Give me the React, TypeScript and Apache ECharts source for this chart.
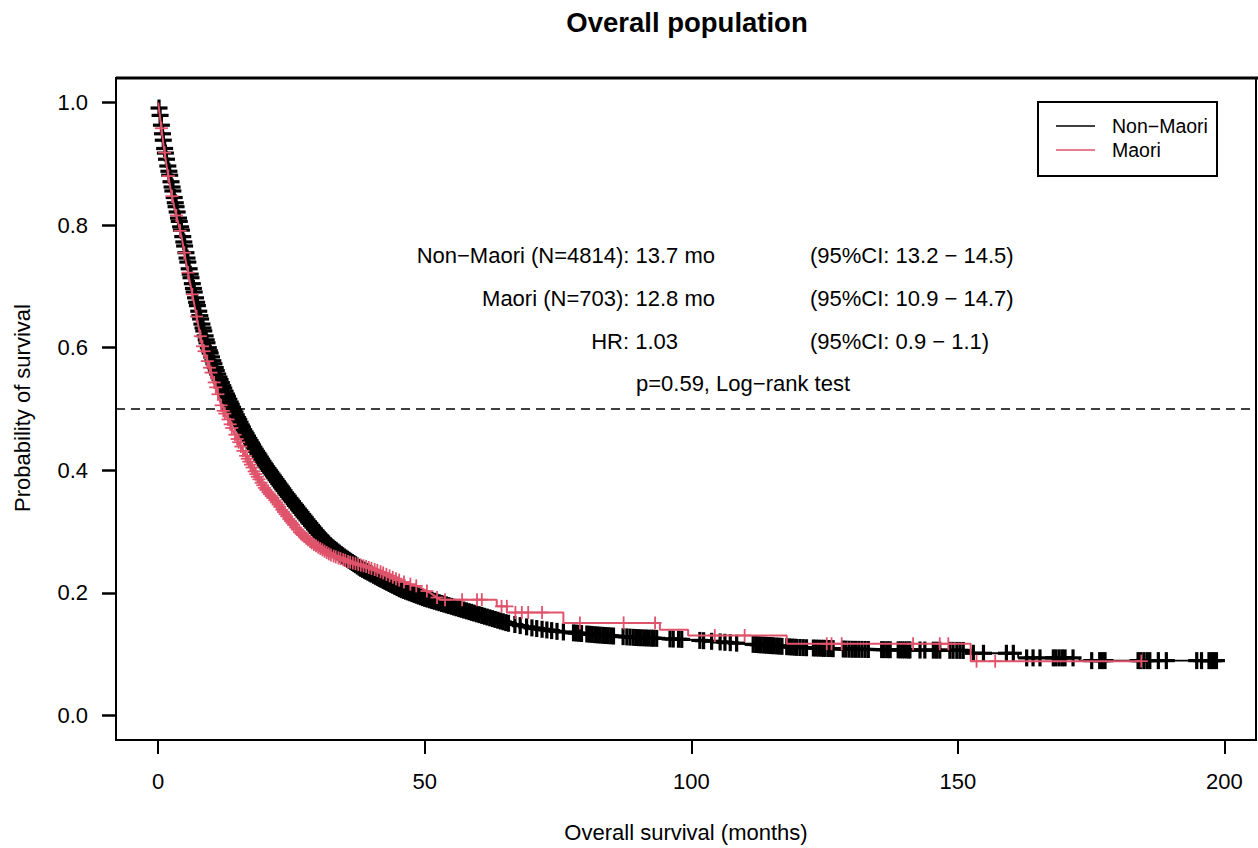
import React, { useEffect, useRef } from "react";
import * as echarts from "echarts";

const FONT = "'Liberation Sans', Arial, Helvetica, sans-serif";
const BLACK = "#000000";
const RED = "#DF536B";

const X_TICKS = [0, 50, 100, 150, 200];
const Y_TICKS = [0, 0.2, 0.4, 0.6, 0.8, 1.0];

const GROUPS = ["Non\u2212Maori", "Maori"];

// Kaplan-Meier curve vertices [months, survival]
const NON_MAORI_CURVE: number[][] = [
  [0, 1.0], [0.5, 0.97], [1, 0.935], [1.6, 0.905], [2.3, 0.875], [3, 0.845], [3.7, 0.815],
  [4.4, 0.79], [5.2, 0.755], [6, 0.72], [6.9, 0.685], [8, 0.645], [9.4, 0.6], [11, 0.56],
  [12.5, 0.53], [14.1, 0.5], [16, 0.467], [18, 0.437], [20, 0.41], [22, 0.386], [24, 0.362],
  [26, 0.34], [28, 0.318], [30, 0.297], [32.2, 0.277], [35, 0.258], [38, 0.24], [41.6, 0.223],
  [45.4, 0.206], [50, 0.191], [55, 0.178], [60, 0.165], [65.4, 0.151], [70, 0.143], [75, 0.137],
  [83, 0.131], [90, 0.127], [100, 0.1235], [110, 0.117], [120, 0.111], [130, 0.108], [140, 0.107],
  [152.3, 0.106], [152.3, 0.1015], [161.3, 0.1015], [161.3, 0.094], [172.8, 0.094],
  [172.8, 0.0895], [198.6, 0.0895],
];

const MAORI_CURVE: number[][] = [
  [0, 1.0], [0.5, 0.965], [1, 0.93], [1.6, 0.895], [2.3, 0.86], [3, 0.83], [3.7, 0.805],
  [4.4, 0.78], [5.2, 0.74], [6, 0.705], [7, 0.66], [8.2, 0.605], [9.5, 0.57], [11, 0.53],
  [12, 0.5], [13, 0.485], [14, 0.465], [16, 0.43], [18.2, 0.395], [20, 0.37], [22, 0.35],
  [24, 0.326], [26.6, 0.298], [29, 0.28], [32.3, 0.262], [36, 0.25], [39, 0.243], [41.6, 0.235],
  [45.4, 0.22], [47, 0.215], [49, 0.21], [51, 0.2], [52.9, 0.189], [63.5, 0.189], [63.5, 0.178],
  [65.4, 0.178], [65.4, 0.168], [76, 0.168], [76, 0.151], [94.1, 0.151], [94.1, 0.14],
  [99.4, 0.14], [99.4, 0.1305], [117.9, 0.1305], [117.9, 0.117], [152.4, 0.117],
  [152.4, 0.0886], [184.4, 0.0886],
];

// censoring times (months)
const NON_MAORI_CENSOR: number[] = [
  0.15, 0.35, 0.6, 0.8, 0.95, 1.2, 1.35, 1.55, 1.8, 2.0, 2.15, 2.4, 2.6, 2.75, 3.0, 3.2, 3.35,
  3.55, 3.8, 3.95, 4.2, 4.35, 4.6, 4.8, 4.95, 5.2, 5.4, 5.55, 5.8, 6.0, 6.15, 6.4, 6.6, 6.75,
  7.0, 7.2, 7.35, 7.6, 7.8, 7.95, 8.2, 8.4, 8.55, 8.8, 9.0, 9.15, 9.4, 9.6, 9.75, 10.0, 10.25,
  10.45, 10.7, 10.9, 11.15, 11.4, 11.6, 11.85, 12.1, 12.3, 12.55, 12.8, 13.0, 13.25, 13.5, 13.7,
  13.95, 14.2, 14.4, 14.65, 14.9, 15.1, 15.35, 15.6, 15.8, 16.05, 16.3, 16.5, 16.75, 17.0, 17.25,
  17.5, 17.7, 17.95, 18.2, 18.45, 18.7, 18.9, 19.15, 19.4, 19.65, 19.9, 20.1, 20.35, 20.6, 20.85,
  21.1, 21.35, 21.6, 21.85, 22.1, 22.35, 22.6, 22.85, 23.1, 23.35, 23.6, 23.9, 24.15, 24.4, 24.7,
  24.95, 25.2, 25.5, 25.75, 26.0, 26.3, 26.55, 26.8, 27.1, 27.35, 27.6, 27.9, 28.2, 28.45, 28.75,
  29.0, 29.3, 29.6, 29.85, 30.15, 30.45, 30.7, 31.0, 31.3, 31.6, 31.9, 32.2, 32.5, 32.8, 33.1,
  33.4, 33.7, 34.0, 34.3, 34.6, 34.9, 35.2, 35.5, 35.8, 36.1, 36.4, 36.7, 37.0, 37.35, 37.7, 38.0,
  38.35, 38.7, 39.0, 39.35, 39.7, 40.0, 40.4, 40.75, 41.1, 41.45, 41.8, 42.2, 42.55, 42.9, 43.3,
  43.65, 44.0, 44.4, 44.8, 45.2, 45.6, 46.0, 46.4, 46.8, 47.2, 47.6, 48.0, 48.4, 48.8, 49.2, 49.6,
  50.0, 50.45, 50.9, 51.35, 51.8, 52.25, 52.7, 53.15, 53.6, 54.05, 54.5, 55.0, 55.45, 55.9, 56.4,
  56.85, 57.3, 57.8, 58.3, 58.75, 59.2, 59.7, 60.2, 60.7, 61.2, 61.7, 62.2, 62.7, 63.2, 63.7,
  64.2, 64.7, 65.2, 65.7,
  66.9, 67.9, 69.1, 70.1, 71.0, 72.0, 72.9, 73.8, 74.8, 76.0, 77.9, 78.4, 78.9, 79.4,
  80.4, 80.9, 81.4, 81.9, 82.4, 82.9, 83.4, 83.9, 84.4, 84.9, 85.4, 87.2, 87.9, 88.5,
  89.1, 89.6, 90.1, 90.6, 91.1, 91.6, 92.1, 92.6, 92.9, 93.5, 96.0, 96.6, 97.6, 98.2,
  101.6, 102.3, 103.8, 105.4, 106.3, 107.3, 108.5, 111.6, 112.1, 112.6, 113.1, 113.6, 114.1,
  114.6, 115.0, 115.4, 116.0, 116.5, 117.0, 117.9, 118.4, 118.9, 119.4, 119.8, 120.4, 121.0,
  121.6, 122.9, 123.4, 123.9, 124.4, 124.8, 125.1, 125.7, 126.2, 126.6, 128.5, 129.0, 129.6,
  130.2, 130.8, 131.4, 132.0, 132.6, 133.2, 135.7, 136.2, 136.8, 137.3, 138.8, 139.2, 139.6,
  140.0, 140.4, 140.8, 141.0, 142.9, 143.8, 145.4, 146.0, 146.6, 148.5, 149.1, 149.8, 150.4,
  151.0, 152.9, 154.8, 159.1, 160.4, 162.9, 164.1, 165.4, 167.9, 168.4, 169.0, 169.6, 170.1,
  171.6, 175.1, 176.6, 177.1, 177.6, 183.8, 184.3, 184.9, 185.5, 186.0, 187.6, 189.1, 194.8,
  195.7, 197.1, 197.6, 198.0, 198.5,
];

const MAORI_CENSOR: number[] = [
  0.6, 1.2, 1.9, 2.6, 3.4, 4.1, 4.9, 5.6, 6.4, 7.2, 7.9, 8.3, 8.6, 9.2, 9.6, 9.9, 10.5, 10.8, 11.2,
  11.8, 12.2, 12.5, 13.1, 13.5, 13.8, 14.4, 14.8, 15.1, 15.5, 15.9, 16.4, 16.7, 17.0, 17.3, 17.6,
  18.0, 18.3, 18.6, 18.9, 19.3, 19.6, 19.9, 20.2, 20.6, 20.9, 21.2, 21.5, 21.9, 22.2, 22.5, 22.8,
  23.2, 23.5, 23.8, 24.1, 24.5, 24.8, 25.1, 25.4, 25.8, 26.1, 26.5, 26.8, 27.1, 27.4, 27.8, 28.1,
  28.5, 28.8, 29.2, 29.6, 30.0, 30.4, 30.8, 31.2, 31.6, 32.0, 32.4, 32.9, 33.3, 33.8, 34.2, 34.7,
  35.1, 35.6, 36.0, 36.5, 37.0, 37.5, 38.0, 38.5, 39.0, 39.5, 40.0, 40.6, 41.1, 41.7, 42.2, 42.8,
  43.4, 44.0, 44.6, 45.2, 46.1, 47.3, 48.4, 50.4, 52.3, 53.8, 57.0, 59.8, 60.7, 64.4, 65.4, 67.0,
  68.2, 69.4, 72.0, 79.1, 87.3, 93.2, 104.4, 110.0, 125.4, 126.3, 128.2, 141.6, 146.6, 148.2,
  153.5, 157.0, 184.4,
];

const ANNOT_LEFT = [
  "Non\u2212Maori (N=4814): 13.7 mo",
  "Maori (N=703): 12.8 mo",
  "HR: 1.03",
];
const ANNOT_RIGHT = [
  "(95%CI: 13.2 \u2212 14.5)",
  "(95%CI: 10.9 \u2212 14.7)",
  "(95%CI: 0.9 \u2212 1.1)",
];
const P_TEXT = "p=0.59, Log\u2212rank test";

// survival value on the drawn curve at time t (where the censor mark sits)
function survAt(curve: number[][], t: number): number {
  for (let i = 0; i < curve.length - 1; i++) {
    const a = curve[i];
    const b = curve[i + 1];
    if (b[0] > a[0] && t >= a[0] && t <= b[0]) {
      return a[1] + ((b[1] - a[1]) * (t - a[0])) / (b[0] - a[0]);
    }
  }
  return curve[curve.length - 1][1];
}

function markSeries(name: string, curve: number[][], times: number[], color: string, lw: number, h: number) {
  return {
    type: "custom",
    name,
    silent: true,
    data: times.map((t) => [t, survAt(curve, t)]),
    renderItem: (_params: any, api: any) => {
      const p = api.coord([api.value(0), api.value(1)]);
      return {
        type: "group",
        children: [
          { type: "line", shape: { x1: p[0] - h, y1: p[1], x2: p[0] + h, y2: p[1] }, style: { stroke: color, lineWidth: lw } },
          { type: "line", shape: { x1: p[0], y1: p[1] - h, x2: p[0], y2: p[1] + h }, style: { stroke: color, lineWidth: lw } },
        ],
      };
    },
  };
}

export default function App() {
  const ref = useRef<HTMLDivElement>(null);

  useEffect(() => {
    if (!ref.current) return;
    const chart = echarts.init(ref.current, null, { renderer: "svg" });
    const textStyle = { fontFamily: FONT, fontSize: 22, fill: "#000" };
    const graphics: any[] = [
      {
        type: "text", x: 687, y: 22,
        style: { text: "Overall population", fontFamily: FONT, fontSize: 27.5, fontWeight: "bold", fill: "#000", align: "center", verticalAlign: "middle" },
      },
      {
        type: "text", x: 686, y: 832,
        style: { ...textStyle, text: "Overall survival (months)", align: "center", verticalAlign: "middle" },
      },
      {
        type: "text", x: 22, y: 408, rotation: Math.PI / 2,
        style: { ...textStyle, text: "Probability of survival", align: "center", verticalAlign: "middle" },
      },
    ];
    const annotY = [255, 298, 341];
    const annotRight = [715, 715, 678];
    ANNOT_LEFT.forEach((t, i) => {
      graphics.push({ type: "text", x: annotRight[i], y: annotY[i], style: { ...textStyle, text: t, align: "right", verticalAlign: "middle" } });
      graphics.push({ type: "text", x: 810, y: annotY[i], style: { ...textStyle, text: ANNOT_RIGHT[i], align: "left", verticalAlign: "middle" } });
    });
    graphics.push({ type: "text", x: 743, y: 383, style: { ...textStyle, text: P_TEXT, align: "center", verticalAlign: "middle" } });
    // legend box
    graphics.push({ type: "rect", shape: { x: 1038, y: 102, width: 179, height: 74 }, style: { fill: "#fff", stroke: "#000", lineWidth: 2 }, z: 10 });
    [BLACK, RED].forEach((c, i) => {
      const y = 126 + i * 24;
      graphics.push({ type: "line", shape: { x1: 1056, y1: y, x2: 1095, y2: y }, style: { stroke: c, lineWidth: 1.5 }, z: 11 });
      graphics.push({ type: "text", x: 1112, y, style: { fontFamily: FONT, fontSize: 19.5, fill: "#000", text: GROUPS[i], align: "left", verticalAlign: "middle" }, z: 11 });
    });
    // thicker top frame line
    graphics.push({ type: "line", shape: { x1: 116, y1: 78, x2: 1258, y2: 78 }, style: { stroke: "#000", lineWidth: 3 }, z: 12 });

    chart.setOption({
      animation: false,
      grid: { left: 116, right: 2, top: 78, bottom: 108, show: true, borderColor: "#000", borderWidth: 2, backgroundColor: "transparent" },
      xAxis: {
        type: "value", min: -7.92, max: 205.92,
        axisLine: { show: false, onZero: false },
        splitLine: { show: false },
        axisTick: { show: true, length: 14, lineStyle: { color: "#000", width: 2 }, customValues: X_TICKS },
        axisLabel: { customValues: X_TICKS, margin: 30, fontSize: 22, color: "#000", fontFamily: FONT },
      },
      yAxis: {
        type: "value", min: -0.04, max: 1.04,
        axisLine: { show: false, onZero: false },
        splitLine: { show: false },
        axisTick: { show: true, length: 14, lineStyle: { color: "#000", width: 2.5 }, customValues: Y_TICKS },
        axisLabel: { customValues: Y_TICKS, margin: 28, fontSize: 22, color: "#000", fontFamily: FONT, formatter: (v: number) => v.toFixed(1) },
      },
      series: [
        {
          type: "line", name: GROUPS[0], data: NON_MAORI_CURVE, showSymbol: false, silent: true,
          lineStyle: { color: BLACK, width: 1.8 }, z: 2,
          markLine: {
            silent: true, symbol: "none", label: { show: false },
            lineStyle: { color: "#000", type: [9, 6], width: 1.5 },
            data: [{ yAxis: 0.5 }],
          },
        },
        { ...markSeries(GROUPS[0] + " censored", NON_MAORI_CURVE, NON_MAORI_CENSOR, BLACK, 3.2, 8.5), z: 3 },
        {
          type: "line", name: GROUPS[1], data: MAORI_CURVE, showSymbol: false, silent: true,
          lineStyle: { color: RED, width: 2 }, z: 4,
        },
        { ...markSeries(GROUPS[1] + " censored", MAORI_CURVE, MAORI_CENSOR, RED, 1.8, 6.5), z: 5 },
      ],
      graphic: graphics,
    });
    return () => chart.dispose();
  }, []);

  return (
    <div
      ref={ref}
      style={{ position: "fixed", left: 0, top: 0, width: 1258, height: 848, background: "#fff" }}
    />
  );
}
